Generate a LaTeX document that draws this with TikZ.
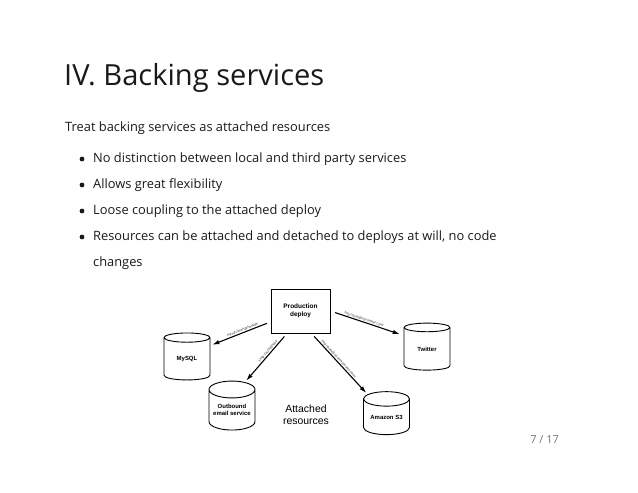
\documentclass[tikz,border=0pt]{standalone}
\usepackage{fontspec}
\setmainfont{Open Sans}
\newfontfamily\diagfont{Liberation Sans}
\usetikzlibrary{shapes.geometric,arrows.meta}

\tikzstyle{resource} = [cylinder, shape border rotate=90, aspect=0.45, draw, line width=0.9bp,
	minimum width=46bp, minimum height=47bp, inner sep=0pt, align=center,
	font=\diagfont\bfseries\fontsize{6}{6.5}\selectfont]
\tikzstyle{link} = [-{Latex[length=7bp,width=4.5bp]}, line width=1.1bp]
\tikzstyle{url} = [font=\diagfont\fontsize{3.4}{4}\selectfont, text=black!80, sloped, above, inner sep=0.5bp]
\tikzstyle{line} = [anchor=base west, inner sep=0pt, font=\fontsize{12.9}{14}\selectfont, text=black!90]

\begin{document}
\begin{tikzpicture}[x=1bp,y=-1bp]
\useasboundingbox (0,0) rectangle (638,493);

% slide text
\node [anchor=base west, inner sep=0pt, font=\fontsize{29.2}{32}\selectfont, text=black!90] (title) at (64,86) {IV. Backing services};
\node [line] (intro) at (65,132) {Treat backing services as attached resources};
\node [line] (p1) at (93,163) {No distinction between local and third party services};
\node [line] (p2) at (93,189) {Allows great flexibility};
\node [line] (p3) at (93,215) {Loose coupling to the attached deploy};
\node [line] (p4) at (93,241) {Resources can be attached and detached to deploys at will, no code};
\node [line] (p4b) at (93,266) {changes};
\foreach \y in {159,185,211,237}
	\fill [black!90] (82,\y) circle (2.4bp);

% diagram
\node [draw, line width=0.9bp, minimum width=59bp, minimum height=44bp, align=center,
	font=\diagfont\bfseries\fontsize{6.5}{7.5}\selectfont] (deploy) at (300.5,311) {Production\\deploy};
\node [resource] (mysql) at (187,359) {MySQL};
\node [resource] (twitter) at (427,349) {Twitter};
\node [resource, minimum height=49bp] (email) at (232,410) {Outbound\\email service};
\node [resource, minimum height=43bp] (sthree) at (386.5,417) {Amazon S3};
\node [align=center, font=\diagfont\fontsize{10.5}{12}\selectfont] (attached) at (306,415) {Attached\\resources};

\draw [link, shorten <=4bp, shorten >=2bp] (deploy.200) -- (mysql.30)
	node [url, pos=0.45] {mysql://auth@host/db};
\draw [link, shorten <=5bp, shorten >=4bp] (deploy.east) -- (twitter.150)
	node [url, pos=0.45] {http://auth@api.twitter.com/};
\draw [link, shorten <=4bp, shorten >=2bp] (deploy.239) -- (email.65)
	node [url, pos=0.4] {smtp://auth@host/};
\draw [link, shorten <=4bp, shorten >=2bp] (deploy.296) -- (sthree.130)
	node [url, pos=0.45] {http://auth@s3.amazonaws.com/};

% page number
\node [anchor=base east, inner sep=0pt, font=\fontsize{11}{13}\selectfont, text=black!55] (page) at (559,443) {7 / 17};
\end{tikzpicture}
\end{document}
